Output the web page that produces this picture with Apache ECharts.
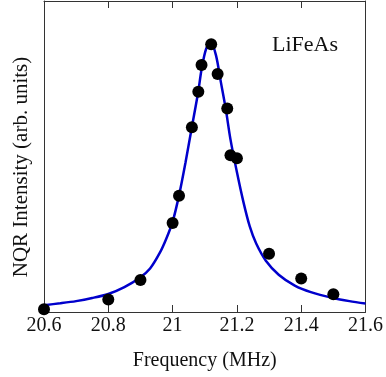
<!DOCTYPE html>
<html>
<head>
<meta charset="utf-8">
<script src="https://cdn.jsdelivr.net/npm/echarts@6/dist/echarts.min.js"></script>
<style>
  html, body { margin: 0; padding: 0; background: #fff; }
  #chart { width: 386px; height: 377px; }
</style>
</head>
<body>
<div id="chart"></div>
<script>
// measured NQR points
const freqs = [20.6, 20.8, 20.9, 21.0, 21.02, 21.06, 21.08, 21.09, 21.12, 21.14, 21.17, 21.18, 21.2, 21.3, 21.4, 21.5];
const intensity = [0.009, 0.040, 0.103, 0.286, 0.374, 0.594, 0.708, 0.794, 0.861, 0.765, 0.654, 0.504, 0.494, 0.187, 0.108, 0.057];

// fitted curve
const fitFreqs = [20.6, 20.65, 20.7, 20.75, 20.8, 20.85, 20.9, 20.93, 20.96, 20.98, 21.0, 21.02, 21.04, 21.06, 21.08, 21.09, 21.105, 21.12, 21.135, 21.15, 21.165, 21.18, 21.2, 21.22, 21.24, 21.26, 21.29, 21.33, 21.38, 21.43, 21.5, 21.55, 21.6];
const fitIntensity = [0.022, 0.028, 0.035, 0.045, 0.058, 0.08, 0.112, 0.14, 0.19, 0.235, 0.29, 0.375, 0.48, 0.595, 0.71, 0.78, 0.848, 0.864, 0.825, 0.74, 0.655, 0.555, 0.45, 0.355, 0.275, 0.22, 0.165, 0.12, 0.085, 0.064, 0.045, 0.035, 0.027];

const xTicks = [20.6, 20.8, 21, 21.2, 21.4, 21.6];

const serif = 'Liberation Serif';
const frame = '#333';

const chart = echarts.init(document.getElementById('chart'));

const xBase = {
  type: 'value',
  min: 20.6,
  max: 21.6,
  interval: 0.2,
  axisLine: { onZero: false, lineStyle: { color: frame, width: 1 } },
  axisTick: { inside: true, length: 7, lineStyle: { color: frame } },
  splitLine: { show: false }
};

const yBase = {
  type: 'value', min: 0, max: 1,
  axisLine: { show: true, onZero: false, lineStyle: { color: frame } },
  axisTick: { show: false }, axisLabel: { show: false }, splitLine: { show: false }
};

chart.setOption({
  animation: false,
  backgroundColor: '#fff',
  grid: { left: 44, right: 17, top: 1, bottom: 65 },
  xAxis: [
    Object.assign({}, xBase, {
      position: 'bottom',
      name: 'Frequency (MHz)',
      nameLocation: 'middle',
      nameGap: 39,
      nameTextStyle: { fontFamily: serif, fontSize: 20, color: '#111' },
      axisLabel: {
        margin: 4,
        fontFamily: serif,
        fontSize: 20,
        color: '#111',
        showMinLabel: true,
        showMaxLabel: true,
        formatter: v => String(+v.toFixed(1))
      }
    }),
    Object.assign({}, xBase, {
      position: 'top',
      axisLabel: { show: false }
    })
  ],
  yAxis: [
    Object.assign({}, yBase, { position: 'left' }),
    Object.assign({}, yBase, { position: 'right' })
  ],
  graphic: [
    {
      type: 'text',
      x: 21, y: 167, rotation: Math.PI / 2,
      style: {
        text: 'NQR Intensity (arb. units)',
        font: '21px "Liberation Serif"',
        fill: '#111',
        align: 'center',
        verticalAlign: 'middle'
      }
    },
    {
      type: 'text',
      x: 272, y: 45,
      style: {
        text: 'LiFeAs',
        font: '22px "Liberation Serif"',
        fill: '#111',
        align: 'left',
        verticalAlign: 'middle'
      }
    }
  ],
  series: [
    {
      type: 'line',
      data: fitFreqs.map((f, i) => [f, fitIntensity[i]]),
      smooth: 0.3,
      showSymbol: false,
      lineStyle: { color: '#0000cc', width: 2.5 },
      z: 2
    },
    {
      type: 'scatter',
      data: freqs.map((f, i) => [f, intensity[i]]),
      symbolSize: 12,
      itemStyle: { color: '#000', opacity: 1 },
      clip: false,
      z: 3
    }
  ]
});
</script>
</body>
</html>
